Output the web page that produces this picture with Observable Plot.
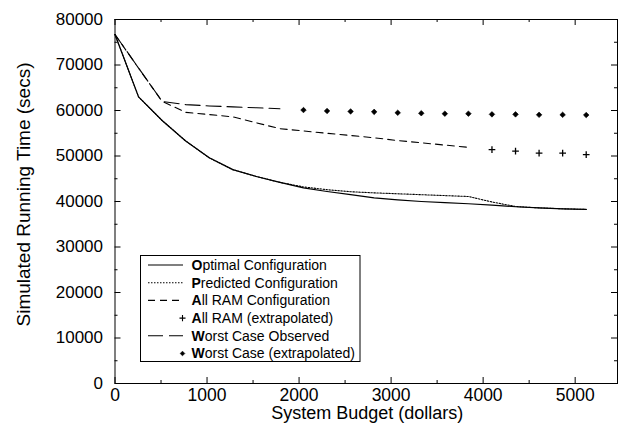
<!DOCTYPE html>
<html>
<head>
<meta charset="utf-8">
<script src="https://cdn.jsdelivr.net/npm/d3@7"></script>
<script src="https://cdn.jsdelivr.net/npm/@observablehq/plot@0.6"></script>
<style>
  html, body { margin: 0; padding: 0; background: #fff; }
  svg { display: block; }
</style>
</head>
<body>
<div id="chart"></div>
<script>
// ---- data ----
const optimalBudget = [0,256,512,768,1024,1280,1536,1792,2048,2304,2560,2816,3072,3328,3584,3840,4096,4352,4608,4864,5120];
const optimalTime   = [76700,63000,57800,53300,49600,47000,45500,44200,43000,42200,41500,40800,40350,40000,39750,39500,39200,38850,38600,38400,38250];

const predictedBudget = [0,256,512,768,1024,1280,1536,1792,2048,2304,2560,2816,3072,3328,3584,3840,4096,4352,4608,4864,5120];
const predictedTime   = [76700,63000,57800,53300,49600,47000,45500,44200,43200,42600,42150,41900,41700,41500,41300,41100,39900,38900,38600,38400,38250];

const allRamBudget = [0,256,512,768,1024,1280,1536,1792,2048,2304,2560,2816,3072,3328,3584,3840];
const allRamTime   = [76700,69300,62000,59600,59100,58600,57300,56000,55500,55000,54500,54000,53400,52900,52400,51900];

const allRamExtBudget = [4096,4352,4608,4864,5120];
const allRamExtTime   = [51400,51050,50650,50650,50300];

const worstBudget = [0,512,768,1024,1280,1536,1792];
const worstTime   = [76700,62000,61300,61000,60800,60600,60400];

const worstExtBudget = [2048,2304,2560,2816,3072,3328,3584,3840,4096,4352,4608,4864,5120];
const worstExtTime   = [60100,59900,59800,59700,59500,59400,59300,59300,59150,59150,59050,59050,59000];

const xTicks = [0,1000,2000,3000,4000,5000];
const xMinor = [500,1500,2500,3500,4500];
const yTicks = [0,10000,20000,30000,40000,50000,60000,70000,80000];
const yMinor = [5000,15000,25000,35000,45000,55000,65000,75000];

const xTitle = "System Budget (dollars)";
const yTitle = "Simulated Running Time (secs)";
const legendNames = ["Optimal Configuration","Predicted Configuration","All RAM Configuration","All RAM (extrapolated)","Worst Case Observed","Worst Case (extrapolated)"];

const zip = (xs, ys) => xs.map((x, i) => ({x, y: ys[i]}));

// ---- layout ----
const W = 618, H = 434;
const mL = 114.5, mR = 1, mT = 19, mB = 51;
const plotW = W - mL - mR, plotH = H - mT - mB;
const font = "Liberation Sans, Arial, Helvetica, sans-serif";

const chart = Plot.plot({
  width: W, height: H,
  marginLeft: mL, marginRight: mR, marginTop: mT, marginBottom: mB,
  style: {fontFamily: font, background: "#fff", color: "#000"},
  x: {domain: [0, 5460]},
  y: {domain: [0, 80000]},
  marks: [
    // inward ticks on all sides
    Plot.tickX(xTicks, {x: d => d, insetTop: plotH - 6, stroke: "#000"}),
    Plot.tickX(xTicks, {x: d => d, insetBottom: plotH - 6, stroke: "#000"}),
    Plot.tickX(xMinor, {x: d => d, insetTop: plotH - 3, stroke: "#000"}),
    Plot.tickX(xMinor, {x: d => d, insetBottom: plotH - 3, stroke: "#000"}),
    Plot.tickY(yTicks, {y: d => d, insetRight: plotW - 6, stroke: "#000"}),
    Plot.tickY(yTicks, {y: d => d, insetLeft: plotW - 6, stroke: "#000"}),
    Plot.tickY(yMinor, {y: d => d, insetRight: plotW - 3, stroke: "#000"}),
    Plot.tickY(yMinor, {y: d => d, insetLeft: plotW - 3, stroke: "#000"}),
    Plot.axisX(xTicks, {tickSize: 0, tickPadding: 5, fontSize: 17.5, tickFormat: d => String(d), label: null}),
    Plot.axisY(yTicks, {tickSize: 0, tickPadding: 12, fontSize: 17, tickFormat: d => String(d), label: null}),
    Plot.text([xTitle], {frameAnchor: "bottom", textAnchor: "middle", dy: 30, dx: 1, fontSize: 18, lineAnchor: "middle", fill: "#000"}),
    Plot.text([yTitle], {frameAnchor: "left", textAnchor: "middle", dx: -91.5, dy: -7, rotate: -90, fontSize: 19, lineAnchor: "middle", fill: "#000"}),
    // series
    Plot.line(zip(worstBudget, worstTime), {x: "x", y: "y", stroke: "#000", strokeWidth: 1.1, strokeDasharray: "15,6"}),
    Plot.line(zip(allRamBudget, allRamTime), {x: "x", y: "y", stroke: "#000", strokeWidth: 1.1, strokeDasharray: "7,5"}),
    Plot.line(zip(predictedBudget, predictedTime), {x: "x", y: "y", stroke: "#000", strokeWidth: 1.1, strokeDasharray: "1.5,1.5"}),
    Plot.line(zip(optimalBudget, optimalTime), {x: "x", y: "y", stroke: "#000", strokeWidth: 1.2}),
    Plot.dot(zip(allRamExtBudget, allRamExtTime), {x: "x", y: "y", symbol: "plus", r: 2.3, stroke: "#000", strokeWidth: 1.3}),
    Plot.dot(zip(worstExtBudget, worstExtTime), {x: "x", y: "y", symbol: "diamond2", r: 2.5, fill: "#000", stroke: "#000", strokeWidth: 0.6}),
    Plot.frame({stroke: "#000", strokeWidth: 1})
  ]
});

document.getElementById("chart").appendChild(chart);

// ---- legend ----
const svg = d3.select(chart);
const lg = svg.append("g").attr("font-family", font).attr("font-size", 14).attr("text-anchor", "start");
const bx = 140.5, by = 255.5, bw = 219.5, bh = 106;
lg.append("rect").attr("x", bx).attr("y", by).attr("width", bw).attr("height", bh)
  .attr("fill", "#fff").attr("stroke", "#000").attr("stroke-width", 1);
const kinds = [
  {type: "line", dash: null},
  {type: "line", dash: "1.5,1.5"},
  {type: "line", dash: "7,5"},
  {type: "plus"},
  {type: "line", dash: "15,6"},
  {type: "diamond"}
];
legendNames.forEach((name, i) => {
  const y = 265 + i * 17.7;
  const k = kinds[i];
  if (k.type === "line") {
    lg.append("line").attr("x1", 148).attr("x2", 183).attr("y1", y).attr("y2", y)
      .attr("stroke", "#000").attr("stroke-width", 1.1)
      .attr("stroke-dasharray", k.dash);
  } else if (k.type === "plus") {
    lg.append("path").attr("d", d3.symbol(d3.symbolPlus, 14)()).attr("transform", `translate(182.5,${y})`)
      .attr("fill", "none").attr("stroke", "#000").attr("stroke-width", 1.1);
  } else {
    lg.append("path").attr("d", d3.symbol(d3.symbolDiamond2, 14)()).attr("transform", `translate(182.5,${y})`)
      .attr("fill", "#000").attr("stroke", "#000").attr("stroke-width", 0.6);
  }
  const t = lg.append("text").attr("x", 191.5).attr("y", y).attr("dy", "0.35em").attr("fill", "#000").attr("text-anchor", "start");
  t.append("tspan").attr("font-weight", "bold").text(name[0]);
  t.append("tspan").text(name.slice(1));
});
</script>
</body>
</html>
